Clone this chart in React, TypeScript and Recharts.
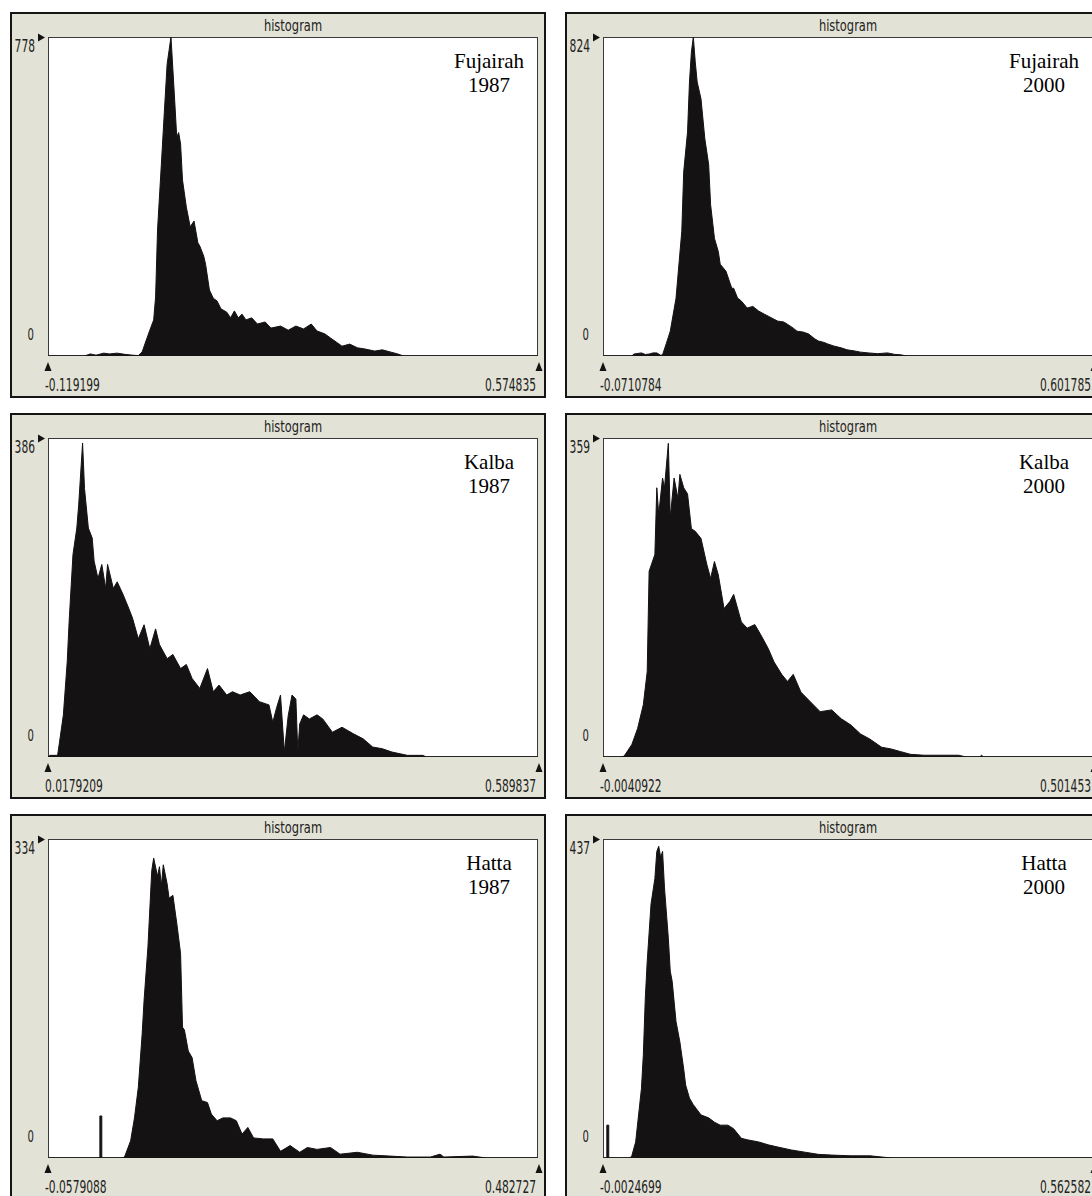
import { AreaChart, Area, XAxis, YAxis } from "recharts";

type Bin = [number, number];

// x = class index of the viewer's 256-class histogram, y = pixel count
const fujairah1987: Bin[] = [
  [0, 0], [19, 0], [22, 5], [25, 2], [29, 7], [32, 5], [36, 7], [40, 4], [44, 2], [47, 1],
  [49, 10], [51, 37], [53, 63], [55, 88], [56, 144], [57, 307], [59, 468], [61, 632], [62, 712],
  [63, 745], [64, 778], [65, 698], [66, 617], [67, 534], [68, 545], [69, 517], [70, 429],
  [72, 363], [74, 315], [76, 329], [78, 276], [79, 268], [81, 244], [82, 224], [84, 161],
  [86, 141], [88, 134], [90, 115], [93, 107], [95, 93], [97, 110], [99, 93], [101, 102],
  [103, 88], [106, 93], [109, 78], [113, 83], [116, 68], [121, 73], [125, 63], [129, 73],
  [133, 66], [137, 78], [140, 61], [144, 54], [147, 44], [150, 34], [153, 24], [157, 29],
  [161, 20], [165, 17], [170, 12], [174, 15], [178, 10], [182, 5], [185, 0], [255, 0],
];
const fujairah1987Range = ["-0.119199", "0.574835"];
const fujairah1987Peak = 778;

const fujairah2000: Bin[] = [
  [0, 0], [15, 0], [16, 5], [20, 8], [22, 4], [24, 5], [26, 8], [28, 8], [30, 2], [31, 3],
  [33, 33], [35, 64], [38, 149], [41, 322], [42, 476], [44, 579], [45, 708], [46, 785],
  [47, 824], [48, 760], [49, 708], [51, 664], [53, 561], [55, 494], [56, 391], [58, 304],
  [60, 270], [61, 237], [64, 219], [67, 175], [68, 175], [70, 150], [72, 142], [75, 124],
  [78, 128], [81, 116], [84, 108], [86, 103], [89, 95], [91, 90], [94, 88], [96, 82],
  [99, 72], [101, 64], [104, 62], [107, 57], [110, 45], [112, 39], [115, 35], [117, 31],
  [120, 26], [124, 21], [127, 16], [131, 13], [134, 10], [138, 8], [143, 6], [148, 8],
  [152, 4], [155, 3], [158, 0], [255, 0],
];
const fujairah2000Range = ["-0.0710784", "0.601785"];
const fujairah2000Peak = 824;

const kalba1987: Bin[] = [
  [0, 0], [1, 2], [5, 2], [6, 18], [8, 51], [10, 115], [11, 164], [13, 245], [15, 277],
  [16, 306], [18, 380], [19, 325], [21, 277], [23, 265], [24, 237], [26, 216], [28, 233],
  [30, 204], [31, 233], [34, 204], [36, 212], [39, 197], [42, 180], [44, 168], [47, 143],
  [50, 160], [53, 131], [56, 155], [58, 136], [62, 119], [65, 124], [69, 107], [72, 112],
  [75, 95], [79, 83], [83, 107], [86, 79], [89, 87], [93, 75], [96, 79], [100, 75],
  [105, 79], [110, 67], [115, 63], [117, 42], [119, 60], [121, 75], [123, 6], [125, 50],
  [127, 75], [129, 70], [130, 6], [131, 40], [133, 51], [136, 46], [140, 51], [143, 46],
  [148, 30], [153, 36], [159, 28], [164, 22], [169, 12], [174, 10], [179, 6], [187, 2],
  [195, 2], [197, 0], [255, 0],
];
const kalba1987Range = ["0.0179209", "0.589837"];
const kalba1987Peak = 386;

const kalba2000: Bin[] = [
  [0, 0], [9, 0], [11, 1], [15, 14], [18, 32], [21, 59], [23, 96], [24, 209], [27, 228],
  [28, 303], [29, 273], [31, 314], [32, 303], [34, 353], [35, 269], [37, 314], [39, 291],
  [40, 318], [42, 303], [44, 296], [46, 257], [48, 254], [51, 246], [54, 217], [56, 201],
  [58, 220], [60, 205], [63, 167], [66, 175], [68, 183], [72, 152], [75, 145], [79, 149],
  [82, 138], [86, 122], [89, 107], [93, 93], [96, 85], [99, 93], [103, 73], [108, 62],
  [113, 51], [119, 53], [124, 43], [129, 36], [134, 26], [139, 20], [145, 11], [150, 9],
  [155, 6], [160, 3], [167, 2], [185, 2], [189, 0], [196, 0], [197, 2], [198, 0], [255, 0],
];
const kalba2000Range = ["-0.0040922", "0.501453"];
const kalba2000Peak = 359;

const hatta1987: Bin[] = [
  [0, 0], [27, 0], [27, 44], [28, 44], [28, 0], [39, 0], [40, 2], [43, 18], [45, 42],
  [47, 74], [49, 130], [50, 165], [52, 221], [54, 301], [55, 314], [57, 295], [58, 305],
  [59, 285], [60, 307], [62, 287], [63, 272], [65, 275], [67, 246], [69, 214], [70, 137],
  [71, 134], [73, 112], [75, 105], [77, 81], [80, 60], [83, 58], [85, 46], [88, 39],
  [91, 42], [95, 42], [98, 39], [101, 25], [104, 32], [107, 21], [112, 20], [117, 20],
  [121, 7], [126, 13], [131, 6], [135, 11], [140, 9], [147, 11], [152, 4], [161, 6],
  [169, 3], [178, 2], [187, 1], [199, 1], [204, 4], [206, 1], [221, 2], [228, 0], [255, 0],
];
const hatta1987Range = ["-0.0579088", "0.482727"];
const hatta1987Peak = 334;

const hatta2000: Bin[] = [
  [0, 0], [2, 0], [2, 45], [3, 45], [3, 0], [14, 0], [15, 3], [17, 22], [20, 95], [21, 142],
  [22, 218], [23, 269], [25, 348], [27, 383], [28, 420], [29, 427], [30, 412], [31, 420],
  [32, 370], [34, 301], [35, 256], [36, 242], [38, 187], [40, 159], [42, 122], [43, 100],
  [45, 82], [47, 73], [51, 59], [55, 55], [58, 49], [61, 45], [65, 45], [68, 40], [72, 27],
  [75, 25], [81, 22], [86, 18], [91, 15], [98, 11], [105, 8], [112, 5], [119, 4], [129, 3],
  [139, 3], [150, 0], [255, 0],
];
const hatta2000Range = ["-0.0024699", "0.562582"];
const hatta2000Peak = 437;

const UI_FONT = "'DejaVu Sans Condensed', 'DejaVu Sans', sans-serif";
const INK = "#141212";
const FACE = "#e3e2d6";

const PANEL_W = 536;
const PANEL_H = 386;
const BORDER = 2;
const CHART_W = PANEL_W - 2 * BORDER;
const CHART_H = PANEL_H - 2 * BORDER;
const PLOT_LEFT = 36;
const PLOT_TOP = 23;
const PLOT_W = 490;
const PLOT_H = 319;

function XTick(props: any) {
  const { x, y, payload, labels } = props;
  const first = payload.value === 0;
  const tx = first ? x - 3 : x - 2;
  return (
    <g>
      <path d={`M${first ? x : x + 1},${y + 6} l3.5,9 h-7 z`} fill={INK} />
      <g transform={`translate(${tx},${y + 35}) scale(0.7,1)`}>
        <text x={0} y={0} textAnchor={first ? "start" : "end"} fontSize={17} fontFamily={UI_FONT} fill="#222">
          {first ? labels[0] : labels[1]}
        </text>
      </g>
    </g>
  );
}

function YTick(props: any) {
  const { x, y, payload } = props;
  if (payload.value === 0) {
    return (
      <g transform={`translate(${x - 14},${y - 16}) scale(0.7,1)`}>
        <text x={0} y={0} textAnchor="end" fontSize={16} fontFamily={UI_FONT} fill="#222">0</text>
      </g>
    );
  }
  return (
    <g>
      <path d={`M${x - 10},${y - 3.5} l7,4 l-7,4 z`} fill={INK} />
      <g transform={`translate(${x - 13},${y + 15}) scale(0.7,1)`}>
        <text x={0} y={0} textAnchor="end" fontSize={17} fontFamily={UI_FONT} fill="#222">
          {payload.value}
        </text>
      </g>
    </g>
  );
}

type HistogramProps = {
  left: number;
  top: number;
  place: string;
  year: string;
  bins: Bin[];
  range: string[];
  peak: number;
};

function Histogram({ left, top, place, year, bins, range, peak }: HistogramProps) {
  const rows = bins.map(([bin, count]) => ({ bin, count }));
  return (
    <div
      style={{
        position: "absolute",
        left,
        top,
        width: PANEL_W,
        height: PANEL_H,
        boxSizing: "border-box",
        border: `${BORDER}px solid #151515`,
        background: FACE,
      }}
    >
      <div
        style={{
          position: "absolute",
          left: PLOT_LEFT,
          top: PLOT_TOP,
          width: PLOT_W,
          height: PLOT_H,
          boxSizing: "border-box",
          border: "1px solid #3a3a3a",
          background: "#fff",
        }}
      />
      <div style={{ position: "absolute", left: 0, top: 0 }}>
        <AreaChart width={CHART_W} height={CHART_H} data={rows} margin={{ top: PLOT_TOP, right: CHART_W - PLOT_LEFT - PLOT_W, bottom: 0, left: 0 }}>
          <XAxis
            type="number"
            dataKey="bin"
            domain={[0, 255]}
            ticks={[0, 255]}
            interval={0}
            height={CHART_H - PLOT_TOP - PLOT_H}
            axisLine={false}
            tickLine={false}
            tickSize={0}
            tickMargin={0}
            tick={(p: any) => <XTick {...p} labels={range} />}
          />
          <YAxis
            type="number"
            domain={[0, peak]}
            ticks={[0, peak]}
            interval={0}
            allowDataOverflow
            width={PLOT_LEFT}
            axisLine={false}
            tickLine={false}
            tickSize={0}
            tickMargin={0}
            tick={(p: any) => <YTick {...p} />}
          />
          <Area
            type="linear"
            dataKey="count"
            stroke={INK}
            strokeWidth={1}
            fill={INK}
            fillOpacity={1}
            dot={false}
            activeDot={false}
            isAnimationActive={false}
          />
        </AreaChart>
      </div>
      <div
        style={{
          position: "absolute",
          left: PLOT_LEFT,
          top: 5,
          width: PLOT_W,
          textAlign: "center",
          fontFamily: UI_FONT,
          fontSize: 15,
          lineHeight: "15px",
          color: "#222",
          transform: "scaleX(0.85)",
        }}
      >
        histogram
      </div>
      <div
        style={{
          position: "absolute",
          left: PLOT_LEFT + PLOT_W - 49 - 70,
          top: PLOT_TOP + 31 - 19,
          width: 140,
          textAlign: "center",
          fontFamily: "'Liberation Serif', 'Times New Roman', serif",
          fontSize: 21,
          lineHeight: "24px",
          color: "#000",
        }}
      >
        {place}
        <br />
        {year}
      </div>
    </div>
  );
}

export default function App() {
  return (
    <div style={{ position: "absolute", left: 0, top: 0, width: 1092, height: 1196, overflow: "hidden", background: "#fff" }}>
      <Histogram left={10} top={12} place="Fujairah" year="1987" bins={fujairah1987} range={fujairah1987Range} peak={fujairah1987Peak} />
      <Histogram left={565} top={12} place="Fujairah" year="2000" bins={fujairah2000} range={fujairah2000Range} peak={fujairah2000Peak} />
      <Histogram left={10} top={413} place="Kalba" year="1987" bins={kalba1987} range={kalba1987Range} peak={kalba1987Peak} />
      <Histogram left={565} top={413} place="Kalba" year="2000" bins={kalba2000} range={kalba2000Range} peak={kalba2000Peak} />
      <Histogram left={10} top={814} place="Hatta" year="1987" bins={hatta1987} range={hatta1987Range} peak={hatta1987Peak} />
      <Histogram left={565} top={814} place="Hatta" year="2000" bins={hatta2000} range={hatta2000Range} peak={hatta2000Peak} />
    </div>
  );
}
